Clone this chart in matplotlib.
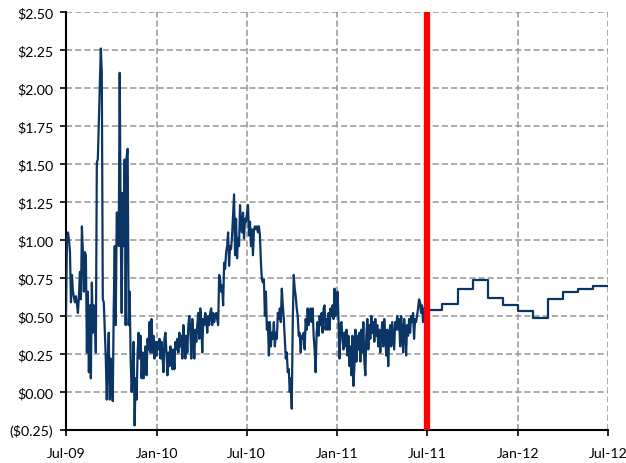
import pandas as pd
import matplotlib
matplotlib.use("Agg")
import matplotlib.pyplot as plt
import matplotlib.dates as mdates
from matplotlib.ticker import FuncFormatter

plt.rcParams['font.family'] = ['Liberation Sans Narrow', 'Lato', 'DejaVu Sans']

# daily spot history, Jul-09 .. Jul-11 (values in $)
spot_q3_09 = [0.50, 1.01, 1.05, 1.00, 0.92, 0.59, 0.77, 0.66, 0.62, 0.59, 0.63, 0.58, 0.52, 0.63,
              0.79, 0.61, 1.09, 0.92, 0.66, 0.92, 0.90, 0.26, 0.66, 0.13, 0.57, 0.09, 0.72, 0.39,
              0.57, 0.52, 0.26, 1.51, 1.53, 1.77, 2.02, 2.26, 2.10, 0.61, 0.59, 0.40, 0.22, -0.05,
              0.22, 0.39, -0.05, 0.22, 0.05, -0.06]
spot_q4_09 = [0.55, 0.96, 0.44, 1.18, 1.18, 0.96, 2.10, 1.09, 0.52, 1.31, 0.96, 1.53, 0.44, 1.55,
              1.60, 0.44, 0.66, 0.22, 0.00, 0.13, 0.33, -0.22, 0.09, -0.05, 0.26, 0.39, 0.22, 0.37,
              0.09, 0.26, 0.09, 0.17, 0.30, 0.11, 0.35, 0.28, 0.46, 0.26, 0.48, 0.26, 0.37, 0.22,
              0.33, 0.24, 0.33, 0.28, 0.35, 0.22, 0.33]
spot_h1_10 = [0.24, 0.13, 0.35, 0.39, 0.26, 0.11, 0.26, 0.17, 0.30, 0.24, 0.15, 0.28, 0.15, 0.33,
              0.28, 0.35, 0.26, 0.39, 0.30, 0.37, 0.22, 0.44, 0.35, 0.22, 0.37, 0.26, 0.44, 0.50,
              0.41, 0.22, 0.48, 0.37, 0.22, 0.41, 0.33, 0.44, 0.52, 0.35, 0.55, 0.48, 0.26, 0.48,
              0.44, 0.52, 0.48, 0.39, 0.50, 0.44, 0.52, 0.55]
spot_mid_10 = [0.44, 0.52, 0.46, 0.50, 0.52, 0.48, 0.44, 0.77, 0.74, 0.66, 0.70, 0.57, 0.85, 0.81,
               0.92, 0.96, 1.05, 0.83, 0.96, 0.94, 1.03, 1.16, 1.30, 0.90, 1.14, 0.88, 1.01, 0.96,
               1.23, 1.09, 1.05, 1.18, 1.01, 1.14, 1.12, 1.18, 1.23, 1.03, 1.12, 0.96, 1.07, 0.90,
               1.07, 1.09, 1.07, 1.09, 1.05, 1.09, 1.03, 0.85]
spot_h2_10 = [0.74, 0.72, 0.74, 0.50, 0.66, 0.41, 0.46, 0.24, 0.46, 0.30, 0.39, 0.35, 0.46, 0.30,
              0.39, 0.35, 0.52, 0.48, 0.55, 0.46, 0.68, 0.57, 0.48, 0.35, 0.22, 0.26, 0.13, 0.15,
              0.00, 0.09, -0.11, 0.46, 0.77, 0.68, 0.63, 0.55, 0.50, 0.37, 0.39, 0.26, 0.37, 0.35,
              0.39, 0.28, 0.48, 0.41, 0.55, 0.44, 0.52, 0.55, 0.46]
spot_q1_11 = [0.55, 0.37, 0.28, 0.13, 0.39, 0.46, 0.37, 0.50, 0.44, 0.52, 0.39, 0.55, 0.57, 0.41,
              0.48, 0.41, 0.52, 0.41, 0.55, 0.50, 0.57, 0.48, 0.68, 0.50, 0.52, 0.66, 0.48, 0.22,
              0.44, 0.46, 0.35, 0.28, 0.39, 0.30, 0.41, 0.24, 0.37, 0.17, 0.30, 0.11, 0.37, 0.04,
              0.17, 0.41, 0.20, 0.37, 0.28, 0.39, 0.20, 0.41]
spot_q2_11 = [0.26, 0.46, 0.20, 0.11, 0.37, 0.48, 0.28, 0.44, 0.35, 0.50, 0.39, 0.46, 0.33, 0.48,
              0.37, 0.44, 0.30, 0.41, 0.26, 0.37, 0.46, 0.30, 0.48, 0.37, 0.24, 0.41, 0.17, 0.37,
              0.44, 0.30, 0.46, 0.37, 0.28, 0.46, 0.41, 0.50, 0.41, 0.48, 0.30, 0.50, 0.39, 0.26,
              0.48, 0.41, 0.24, 0.44, 0.37, 0.48, 0.39, 0.50, 0.46, 0.52, 0.35, 0.48, 0.46, 0.50,
              0.55, 0.61, 0.59, 0.52, 0.57, 0.46, 0.55, 0.50, 0.45, 0.53]

# monthly forward strip from Jul-11
fwd_months = ['2011-07-01', '2011-08-01', '2011-09-01', '2011-10-01', '2011-11-01', '2011-12-01',
              '2012-01-01', '2012-02-01', '2012-03-01', '2012-04-01', '2012-05-01', '2012-06-01',
              '2012-07-01']
fwd_values = [0.54, 0.58, 0.68, 0.74, 0.62, 0.57, 0.53, 0.49, 0.61, 0.66, 0.68, 0.70, 0.70]

spot = spot_q3_09 + spot_q4_09 + spot_h1_10 + spot_mid_10 + spot_h2_10 + spot_q1_11 + spot_q2_11
spot_dates = pd.date_range('2009-07-01', '2011-07-01', periods=len(spot))
fwd_dates = pd.to_datetime(fwd_months)

navy = '#0b3565'
fig = plt.figure(figsize=(6.26, 4.64), dpi=100)
ax = fig.add_axes([66 / 626, 1 - 431 / 464, 542 / 626, 418 / 464])

ax.plot(spot_dates, spot, color=navy, lw=1.6, zorder=3)
ax.plot(fwd_dates, fwd_values, color=navy, lw=1.6, drawstyle='steps-post', zorder=3)
ax.axvline(pd.Timestamp('2011-07-01'), color='#ff0000', lw=4.5, zorder=4)

ax.set_xlim(pd.Timestamp('2009-07-01'), pd.Timestamp('2012-07-01'))
ax.set_ylim(-0.25, 2.50)
ax.set_yticks([i * 0.25 for i in range(-1, 11)])
ax.xaxis.set_major_locator(mdates.MonthLocator(bymonth=[1, 7]))
ax.xaxis.set_major_formatter(mdates.DateFormatter('%b-%y'))
ax.yaxis.set_major_formatter(FuncFormatter(
    lambda v, _: f"(${abs(v):.2f})" if v < 0 else f"${v:.2f}"))

ax.grid(True, color='#959595', lw=1.1, linestyle=(0, (4, 2)))
ax.set_axisbelow(True)
for side in ['top', 'right']:
    ax.spines[side].set_visible(False)
for side in ['left', 'bottom']:
    ax.spines[side].set_linewidth(1.5)
    ax.spines[side].set_color('black')
ax.tick_params(axis='both', direction='out', length=4, width=1.2, labelsize=10.2, colors='black')
ax.tick_params(axis='x', pad=8)
ax.tick_params(axis='y', pad=5)

fig.savefig('out.png', dpi=100)
